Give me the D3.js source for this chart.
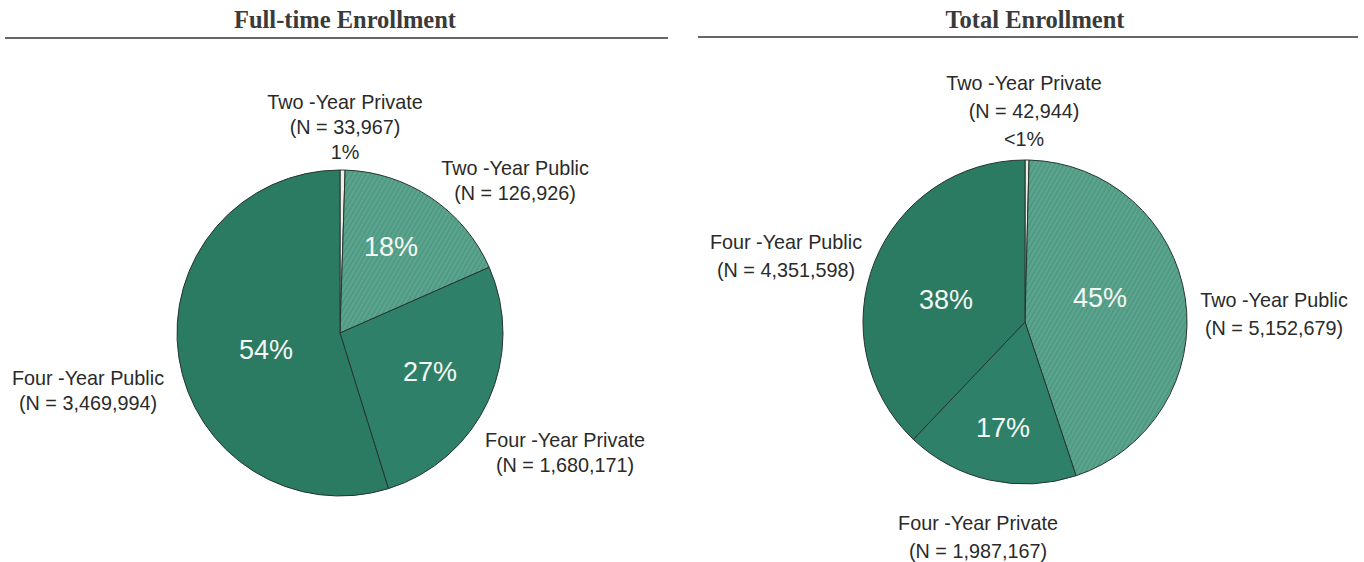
<!DOCTYPE html>
<html>
<head>
<meta charset="utf-8">
<script src="https://cdn.jsdelivr.net/npm/d3@7"></script>
<style>
  body { margin: 0; background: #fff; }
  svg { display: block; }
</style>
</head>
<body>
<svg id="chart" width="1364" height="562"></svg>
<script>
// slice order, clockwise from 12 o'clock
var categories = ["Two -Year Private", "Two -Year Public", "Four -Year Private", "Four -Year Public"];

var fullTimeN = [33967, 126926, 1680171, 3469994];
var fullTimeShare = [0.5, 17.9, 26.8, 54.8];
var fullTimePct = ["1%", "18%", "27%", "54%"];

var totalN = [42944, 5152679, 1987167, 4351598];
var totalShare = [0.4, 44.5, 17.2, 37.9];
var totalPct = ["<1%", "45%", "17%", "38%"];

var svg = d3.select("#chart");
var fmt = d3.format(",");

var defs = svg.append("defs");
var hatch = defs.append("pattern")
    .attr("id", "hatch")
    .attr("patternUnits", "userSpaceOnUse")
    .attr("width", 4).attr("height", 4)
    .attr("patternTransform", "rotate(-60)");
hatch.append("rect").attr("width", 4).attr("height", 4).attr("fill", "#4f9a83");
hatch.append("line").attr("x1", 0).attr("y1", 1).attr("x2", 4).attr("y2", 1)
    .attr("stroke", "#66ab95").attr("stroke-width", 1.2);

var color = d3.scaleOrdinal()
    .domain(categories)
    .range(["#eeeeea", "url(#hatch)", "#2e8168", "#2b7a62"]);

var charts = [
  {
    title: "Full-time Enrollment", titleX: 345, rule: [5, 668, 38],
    cx: 340, cy: 333, r: 163, n: fullTimeN, share: fullTimeShare, pct: fullTimePct,
    // outer label offsets from pie centre (centre x, first line y)
    outer: [[5, -231], [175, -165], [225, 107], [-252, 45]],
    inner: [null, [51, -86], [90, 39], [-74, 17]],
    gap: 25
  },
  {
    title: "Total Enrollment", titleX: 1035, rule: [698, 1358, 37],
    cx: 1025, cy: 322, r: 162, n: totalN, share: totalShare, pct: totalPct,
    outer: [[-1, -239], [249, -22], [-47, 201], [-239, -80]],
    inner: [null, [75, -24], [-22, 106], [-79, -22]],
    gap: 28
  }
];

var pie = d3.pie().sort(null).value(function(d) { return d.share; });

charts.forEach(function(c) {
  svg.append("text")
      .attr("x", c.titleX).attr("y", 28)
      .attr("text-anchor", "middle")
      .attr("font-family", "Liberation Serif, serif")
      .attr("font-weight", "bold")
      .attr("font-size", "24.5px")
      .attr("fill", "#3a3a3a")
      .text(c.title);

  svg.append("line")
      .attr("x1", c.rule[0]).attr("x2", c.rule[1])
      .attr("y1", c.rule[2]).attr("y2", c.rule[2])
      .attr("stroke", "#333").attr("stroke-width", 1.5);

  var data = categories.map(function(name, i) {
    return { name: name, share: c.share[i], n: c.n[i], pct: c.pct[i], i: i };
  });

  var arc = d3.arc().innerRadius(0).outerRadius(c.r);
  var g = svg.append("g").attr("transform", "translate(" + c.cx + "," + c.cy + ")");

  g.selectAll("path")
    .data(pie(data))
    .enter().append("path")
      .attr("d", arc)
      .attr("fill", function(d) { return color(d.data.name); })
      .attr("stroke", "#26352f")
      .attr("stroke-width", 1);

  // percentages inside the slices
  g.selectAll(".pct")
    .data(data.filter(function(d) { return c.inner[d.i]; }))
    .enter().append("text")
      .attr("class", "pct")
      .attr("x", function(d) { return c.inner[d.i][0]; })
      .attr("y", function(d) { return c.inner[d.i][1]; })
      .attr("dy", "0.35em")
      .attr("text-anchor", "middle")
      .attr("font-family", "Liberation Sans, Arial, sans-serif")
      .attr("font-size", "27px")
      .attr("fill", "#f4f8f4")
      .text(function(d) { return d.pct; });

  // category labels outside
  data.forEach(function(d) {
    var lines = [d.name, "(N = " + fmt(d.n) + ")"];
    if (!c.inner[d.i]) lines.push(d.pct);
    var t = g.append("text")
        .attr("text-anchor", "middle")
        .attr("font-family", "Liberation Sans, Arial, sans-serif")
        .attr("font-size", "19.8px")
        .attr("fill", "#2a2a2a");
    lines.forEach(function(s, k) {
      t.append("tspan")
          .attr("x", c.outer[d.i][0])
          .attr("y", c.outer[d.i][1] + k * c.gap)
          .attr("dy", "0.35em")
          .text(s);
    });
  });
});
</script>
</body>
</html>
